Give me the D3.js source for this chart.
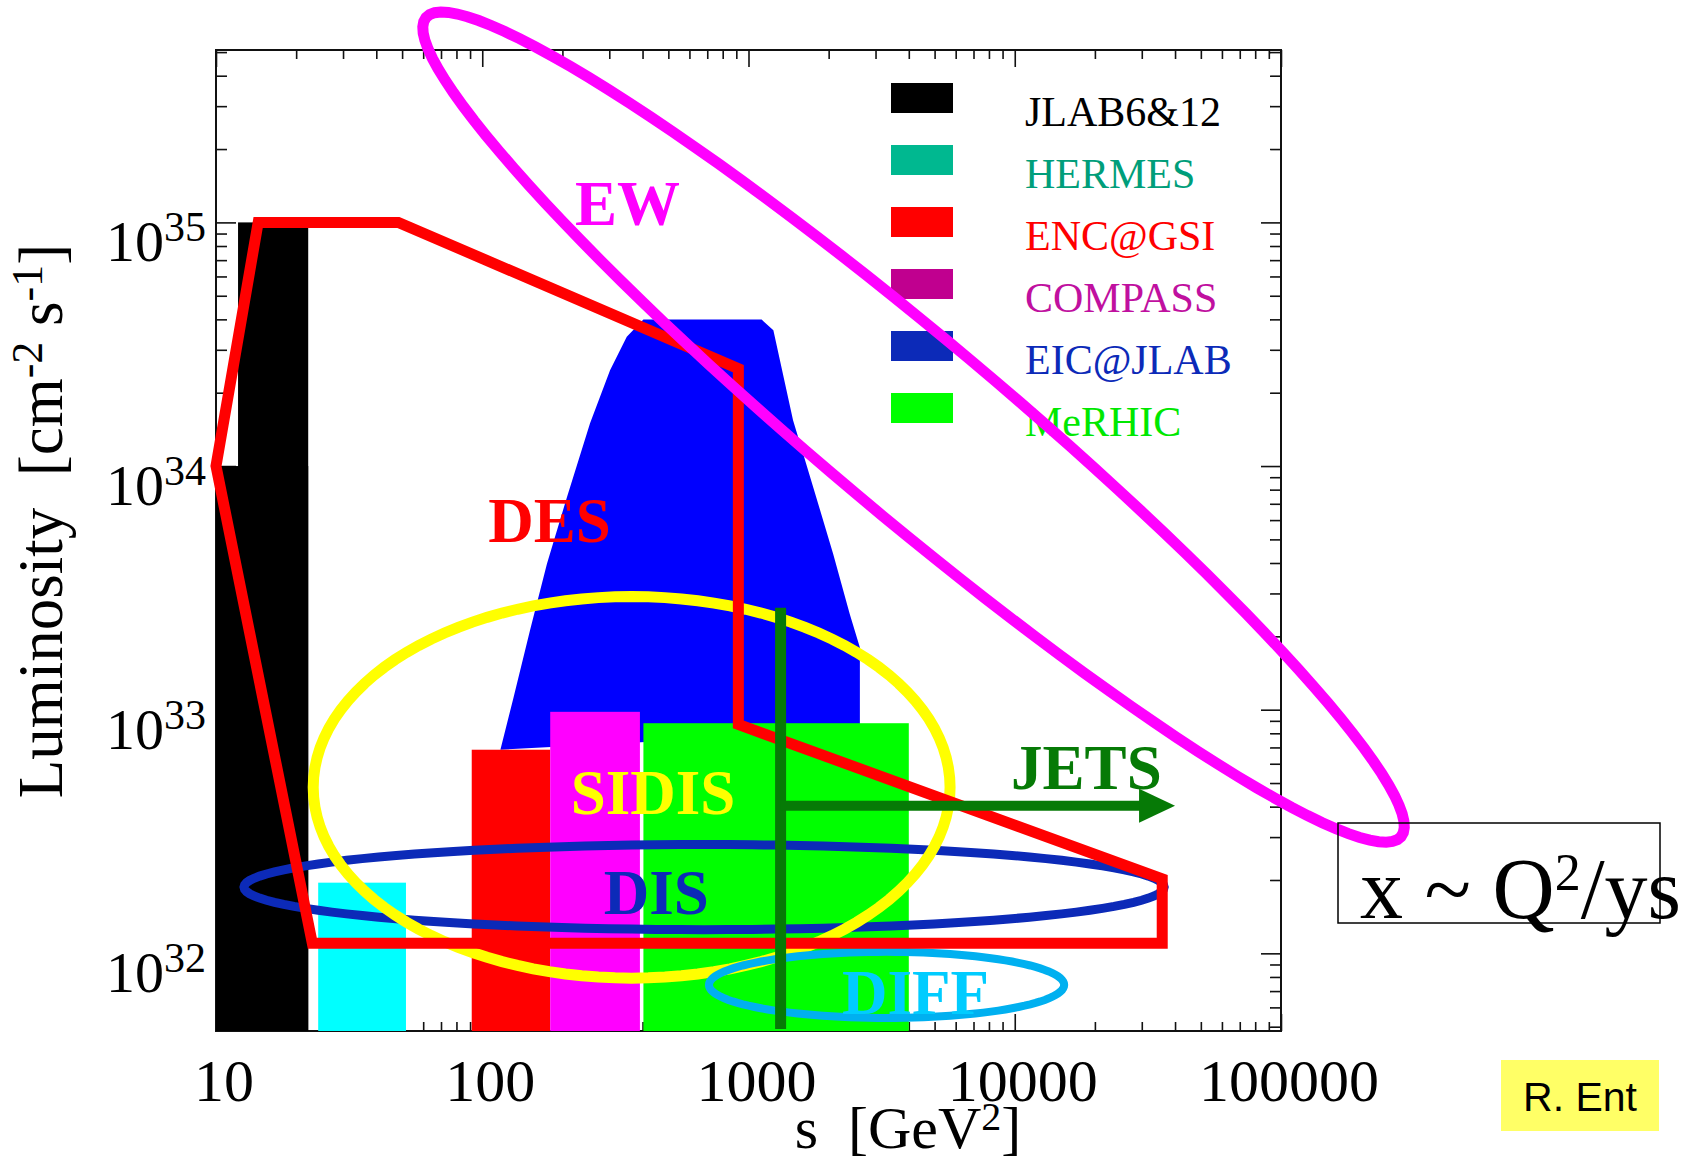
<!doctype html>
<html lang="en">
<head>
<meta charset="UTF-8">
<title>luminosity vs s</title>
<style>
  body { margin: 0; background: #fff; }
  svg text { font-family: "Liberation Serif", "Times New Roman", serif; }
  .axis path.domain { display: none; }
  .axis line { stroke: #111; stroke-width: 1.6px; }
  .tag { font-weight: bold; font-size: 63px; }
  .legend text { font-size: 42px; }
</style>
</head>
<body>
<svg width="1690" height="1163"></svg>
<script src="https://d3js.org/d3.v7.min.js"></script>
<script>
  // ---- data ----
  const xTickValues = [10, 100, 1000, 10000, 100000]
  const xTickLabels = ['10', '100', '1000', '10000', '100000']
  const yTickValues = [1e32, 1e33, 1e34, 1e35]
  const yTickExponents = ['32', '33', '34', '35']

  // facility bars: s range [GeV^2] and luminosity
  const barNames = ['JLAB6', 'JLAB12', 'HERMES', 'ENC@GSI', 'COMPASS', 'MeRHIC']
  const barSLow = [10, 12.1, 24.2, 91.3, 180, 403]
  const barSHigh = [22.2, 22.2, 51.7, 180, 391, 4000]
  const barLumi = [1e34, 1e35, 1.95e32, 6.85e32, 9.8e32, 8.8e32]

  // EIC@JLAB envelope
  const eicS = [117, 131, 151, 175, 208, 254, 302, 349, 403, 1120, 1240, 1470, 1750, 2080, 2400, 2620, 2620]
  const eicL = [6.85e32, 1.12e33, 2.11e33, 3.97e33, 7.45e33, 1.5e34, 2.47e34, 3.39e34, 3.99e34,
    3.99e34, 3.61e34, 1.54e34, 8.19e33, 4.36e33, 2.47e33, 1.8e33, 8.2e32]

  const legendNames = ['JLAB6&12', 'HERMES', 'ENC@GSI', 'COMPASS', 'EIC@JLAB', 'MeRHIC']

  // DES region outline
  const desS = [10, 14.4, 48.4, 916, 916, 35800, 35800, 23]
  const desL = [1e34, 1e35, 1e35, 2.51e34, 8.7e32, 2.02e32, 1.1e32, 1.1e32]

  // physics regions drawn as ellipses in log-log space (semi-axes in decades)
  const regionNames = ['EW', 'SIDIS', 'DIS', 'DIFF']
  const regionS = [4167, 364, 681, 3300]
  const regionL = [1.445e34, 4.8e32, 1.87e32, 7.42e31]
  const regionAxisU = [[1.831, -1.681], [1.196, 0], [1.728, 0], [0.667, 0]]
  const regionAxisV = [[-0.212, -0.277], [0, 0.783], [0, 0.1746], [0, 0.1356]]

  // jets: s threshold and arrow
  const jetsS = 1320
  const jetsTopL = 2.62e33
  const jetsArrowS = [1320, 40000]
  const jetsArrowL = 4.03e32

  const labelText = ['EW', 'DES', 'SIDIS', 'DIS', 'JETS', 'DIFF']
  const labelS = [223, 105.4, 215, 286, 9690, 2244]
  const labelL = [9.75e34, 4.87e33, 3.74e32, 1.45e32, 4.74e32, 5.64e31]

  // ---- styles ----
  const barFill = ['#000', '#000', '#00ffff', '#ff0000', '#ff00ff', '#00ff00']
  const legendFill = ['#000', '#00b890', '#ff0000', '#c0008f', '#0c2ab8', '#00ff00']
  const legendText = ['#000', '#009e7a', '#ff0000', '#c0109f', '#0c2ab8', '#00e800']
  const regionColor = ['#ff00ff', '#ffff00', '#0c2ab8', '#00b0f0']
  const regionWidth = [11, 11, 9, 8]
  const labelColor = ['#ff00ff', '#ff0000', '#ffff00', '#0c2ab8', '#067a06', '#00ccff']

  const svg = d3.select('svg')

  const x = d3.scaleLog().domain([10, 1e5]).range([216, 1281])
  const y = d3.scaleLog().domain([4.8e31, 5.1e35]).range([1031, 50])
  const [x0, x1] = x.range()
  const [y0, y1] = y.range()

  const isDecade = d => Math.abs(Math.log10(d) - Math.round(Math.log10(d))) < 1e-6
  const xMinor = x.ticks().filter(d => !isDecade(d))
  const yMinor = y.ticks().filter(d => !isDecade(d))

  // frame + inward ticks
  svg.append('rect')
    .attr('x', x0).attr('y', y1)
    .attr('width', x1 - x0).attr('height', y0 - y1)
    .attr('fill', 'none').attr('stroke', '#111').attr('stroke-width', 2)

  function ticks (axisFn, scale, values, size, tr) {
    svg.append('g').attr('class', 'axis').attr('transform', tr)
      .call(axisFn(scale).tickValues(values).tickSize(-size).tickFormat(''))
  }
  ticks(d3.axisTop, x, xTickValues, 17, `translate(0,${y1})`)
  ticks(d3.axisTop, x, xMinor, 9, `translate(0,${y1})`)
  ticks(d3.axisBottom, x, xTickValues, 17, `translate(0,${y0})`)
  ticks(d3.axisBottom, x, xMinor, 9, `translate(0,${y0})`)
  ticks(d3.axisLeft, y, yTickValues, 20, `translate(${x0},0)`)
  ticks(d3.axisLeft, y, yMinor, 11, `translate(${x0},0)`)
  ticks(d3.axisRight, y, yTickValues, 20, `translate(${x1},0)`)
  ticks(d3.axisRight, y, yMinor, 11, `translate(${x1},0)`)

  // EIC envelope
  svg.append('path')
    .attr('d', d3.line().curve(d3.curveLinearClosed)(eicS.map((s, i) => [x(s), y(eicL[i])])))
    .attr('fill', '#0000ff')

  // bars
  svg.append('g').selectAll('rect')
    .data(barNames)
    .join('rect')
    .attr('x', (d, i) => x(barSLow[i]))
    .attr('width', (d, i) => x(barSHigh[i]) - x(barSLow[i]))
    .attr('y', (d, i) => y(barLumi[i]))
    .attr('height', (d, i) => y0 - y(barLumi[i]))
    .attr('fill', (d, i) => barFill[i])

  // axis tick labels
  svg.append('g').selectAll('text')
    .data(xTickValues)
    .join('text')
    .attr('x', d => x(d) + 8)
    .attr('y', 1101)
    .attr('text-anchor', 'middle')
    .attr('font-size', 60)
    .text((d, i) => xTickLabels[i])

  svg.append('g').selectAll('text')
    .data(yTickValues)
    .join('text')
    .attr('x', 206)
    .attr('y', d => y(d) + 39)
    .attr('text-anchor', 'end')
    .each(function (d, i) {
      const t = d3.select(this)
      t.append('tspan').attr('font-size', 58).text('10')
      t.append('tspan').attr('font-size', 42).attr('dy', -20).text(yTickExponents[i])
    })

  // axis titles
  const xt = svg.append('text')
    .attr('x', 908).attr('y', 1148)
    .attr('text-anchor', 'middle')
    .attr('font-size', 60)
    .style('white-space', 'pre')
  xt.append('tspan').text('s  [GeV')
  xt.append('tspan').attr('font-size', 40).attr('dy', -18).text('2')
  xt.append('tspan').attr('dy', 18).text(']')

  const yt = svg.append('text')
    .attr('transform', 'translate(62,521) rotate(-90)')
    .attr('text-anchor', 'middle')
    .attr('font-size', 63)
    .style('white-space', 'pre')
  yt.append('tspan').text('Luminosity  [cm')
  yt.append('tspan').attr('font-size', 44).attr('dy', -20).text('-2')
  yt.append('tspan').attr('dy', 20).text(' s')
  yt.append('tspan').attr('font-size', 44).attr('dy', -20).text('-1')
  yt.append('tspan').attr('dy', 20).text(']')

  // region ellipses
  const ellipse = i => d3.range(0, 360, 3).map(a => {
    const t = a * Math.PI / 180
    const ls = Math.log10(regionS[i]) + regionAxisU[i][0] * Math.cos(t) + regionAxisV[i][0] * Math.sin(t)
    const ll = Math.log10(regionL[i]) + regionAxisU[i][1] * Math.cos(t) + regionAxisV[i][1] * Math.sin(t)
    return [x(10 ** ls), y(10 ** ll)]
  })
  const closed = d3.line().curve(d3.curveLinearClosed)
  function drawRegion (i) {
    svg.append('path')
      .attr('d', closed(ellipse(i)))
      .attr('fill', 'none')
      .attr('stroke', regionColor[i])
      .attr('stroke-width', regionWidth[i])
  }
  drawRegion(2)
  drawRegion(1)
  drawRegion(3)

  // DES outline
  svg.append('path')
    .attr('d', closed(desS.map((s, i) => [x(s), y(desL[i])])))
    .attr('fill', 'none')
    .attr('stroke', '#ff0000')
    .attr('stroke-width', 11)
    .attr('stroke-linejoin', 'miter')

  // jets line + arrow
  const jetsColor = '#067a06'
  svg.append('line')
    .attr('x1', x(jetsS)).attr('x2', x(jetsS))
    .attr('y1', y(jetsTopL)).attr('y2', y0 - 2)
    .attr('stroke', jetsColor).attr('stroke-width', 11)
  const tipX = x(jetsArrowS[1])
  const ay = y(jetsArrowL)
  svg.append('line')
    .attr('x1', x(jetsArrowS[0])).attr('x2', tipX - 30)
    .attr('y1', ay).attr('y2', ay)
    .attr('stroke', jetsColor).attr('stroke-width', 10)
  svg.append('path')
    .attr('d', `M${tipX},${ay}L${tipX - 36},${ay - 17}L${tipX - 36},${ay + 17}Z`)
    .attr('fill', jetsColor)

  // legend
  const legend = svg.append('g').attr('class', 'legend')
  legend.selectAll('rect')
    .data(legendNames)
    .join('rect')
    .attr('x', 891).attr('y', (d, i) => 83 + 62 * i)
    .attr('width', 62).attr('height', 30)
    .attr('fill', (d, i) => legendFill[i])
  legend.selectAll('text')
    .data(legendNames)
    .join('text')
    .attr('x', 1025).attr('y', (d, i) => 126 + 62 * i)
    .attr('fill', (d, i) => legendText[i])
    .text(d => d)

  // EW ellipse on top
  drawRegion(0)

  // region labels
  svg.append('g').selectAll('text')
    .data(labelText)
    .join('text')
    .attr('class', 'tag')
    .attr('x', (d, i) => x(labelS[i]))
    .attr('y', (d, i) => y(labelL[i]))
    .attr('fill', (d, i) => labelColor[i])
    .text(d => d)

  // x ~ Q2/ys box
  svg.append('rect')
    .attr('x', 1338).attr('y', 823).attr('width', 322).attr('height', 100)
    .attr('fill', 'none').attr('stroke', '#000').attr('stroke-width', 1.5)
  const qt = svg.append('text')
    .attr('x', 1360).attr('y', 918)
    .attr('font-size', 86)
    .style('white-space', 'pre')
  qt.append('tspan').text('x ~ Q')
  qt.append('tspan').attr('font-size', 52).attr('dy', -28).text('2')
  qt.append('tspan').attr('dy', 28).text('/ys')

  // credit
  svg.append('rect')
    .attr('x', 1501).attr('y', 1060).attr('width', 158).attr('height', 71)
    .attr('fill', '#ffff66')
  svg.append('text')
    .attr('x', 1580).attr('y', 1111)
    .attr('text-anchor', 'middle')
    .attr('font-size', 41)
    .style('font-family', '"Liberation Sans", Arial, sans-serif')
    .text('R. Ent')
</script>
</body>
</html>
